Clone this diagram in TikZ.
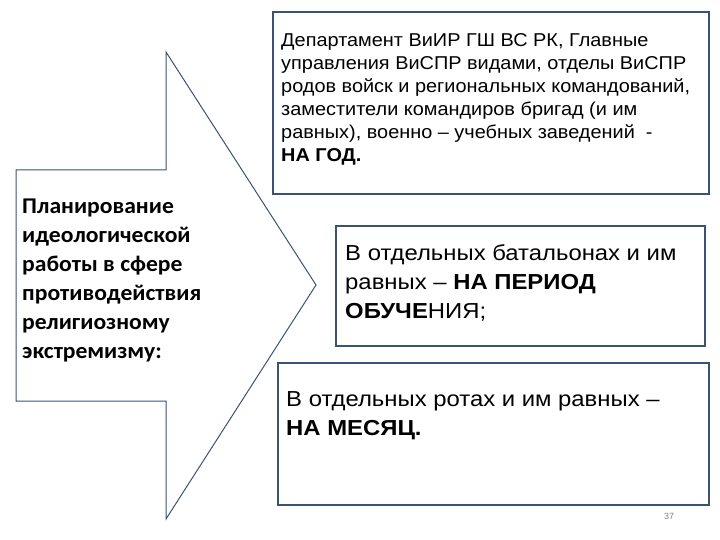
\documentclass[tikz,border=0pt]{standalone}
\usepackage{fontspec}
\setmainfont{Liberation Sans}
\newfontfamily\calib{Carlito}
\definecolor{edge}{HTML}{3A5273}
\begin{document}
\begin{tikzpicture}[x=1pt,y=-1pt,
  box/.style={draw=edge,line width=1.2pt},
  txt/.style={anchor=north west,inner sep=0pt,align=left}]
\useasboundingbox (0,0) rectangle (720,540);
\draw[edge,line width=1pt] (16,170) -- (166,170) -- (166,52) -- (316,285) -- (166,519) -- (166,401) -- (16,401) -- cycle;
\draw[box] (273,12) rectangle (709,194) coordinate (b1);
\draw[box] (336,226) rectangle (705,346) coordinate (b2);
\draw[box] (278,363) rectangle (709,505) coordinate (b3);
\node[txt,xscale=1.07,font=\fontsize{18.6}{23}\selectfont] (t1) at (281,33) {Департамент ВиИР ГШ ВС РК, Главные\\управления ВиСПР видами, отделы ВиСПР\\родов войск и региональных командований,\\заместители командиров бригад (и им\\равных), военно -- учебных заведений~~-\\\textbf{НА ГОД.}};
\node[txt,xscale=1.1,font=\fontsize{21.7}{29}\selectfont] (t2) at (345,244) {В отдельных батальонах и им\\равных -- \textbf{НА ПЕРИОД}\\\textbf{ОБУЧЕ}НИЯ;};
\node[txt,xscale=1.1,font=\fontsize{21.7}{29}\selectfont] (t3) at (286,391) {В отдельных ротах и им равных --\\\textbf{НА МЕСЯЦ.}};
\node[txt,xscale=1.05,font=\calib\bfseries\fontsize{22.5}{29}\selectfont] (t4) at (22,199) {Планирование\\идеологической\\работы в сфере\\противодействия\\религиозному\\экстремизму:};
\node[anchor=center,inner sep=0pt,text=gray,font=\fontsize{9}{10}\selectfont] (pg) at (669,516) {37};
\end{tikzpicture}
\end{document}
